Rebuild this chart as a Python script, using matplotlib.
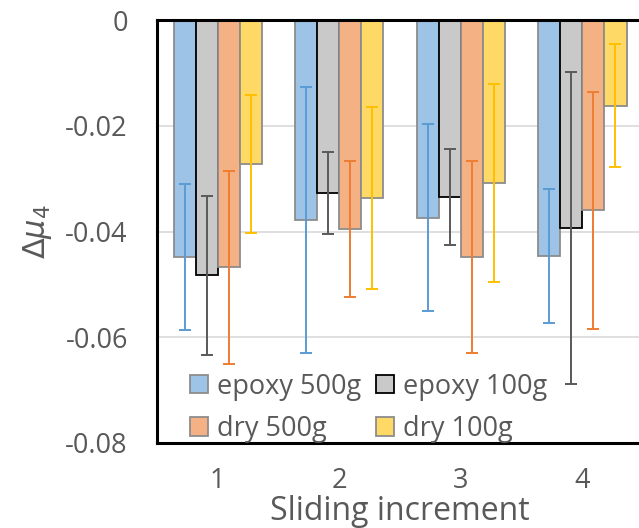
import numpy as np
import matplotlib.pyplot as plt

# sliding increments and mean change of friction coefficient per condition
increments = ["1", "2", "3", "4"]
series_names = ["epoxy 500g", "epoxy 100g", "dry 500g", "dry 100g"]

epoxy_500 = [-0.0449, -0.0378, -0.0374, -0.0446]
epoxy_100 = [-0.0483, -0.0327, -0.0335, -0.0393]
dry_500 = [-0.0468, -0.0395, -0.0448, -0.0360]
dry_100 = [-0.0272, -0.0337, -0.0308, -0.0162]

epoxy_500_err = [0.0138, 0.0252, 0.0177, 0.0127]
epoxy_100_err = [0.0150, 0.0077, 0.0091, 0.0295]
dry_500_err = [0.0182, 0.0128, 0.0182, 0.0224]
dry_100_err = [0.0130, 0.0172, 0.0187, 0.0116]

fill_colors = ["#9DC3E6", "#C9C9C9", "#F4B183", "#FFD966"]
edge_colors = ["#8C8C8C", "#000000", "#8C8C8C", "#8C8C8C"]
err_colors = ["#5B9BD5", "#595959", "#ED7D31", "#FFC000"]

plt.rcParams["font.family"] = ["Open Sans", "DejaVu Sans"]
text_gray = "#595959"

fig = plt.figure(figsize=(6.39, 5.28), dpi=100)
ax = fig.add_axes([0.2457, 0.161, 0.7606, 0.801])

values = [epoxy_500, epoxy_100, dry_500, dry_100]
errors = [epoxy_500_err, epoxy_100_err, dry_500_err, dry_100_err]

x = np.arange(len(increments))
width = 0.182
bars = []
for i in range(4):
    pos = x + (i - 1.5) * width
    b = ax.bar(pos, values[i], width, color=fill_colors[i],
               edgecolor=edge_colors[i], linewidth=1.3,
               label=series_names[i], zorder=2)
    bars.append(b)
    ax.errorbar(pos, values[i], yerr=errors[i], fmt="none",
                ecolor=err_colors[i], elinewidth=1.4, capsize=4.5,
                capthick=1.4, zorder=3)

ax.set_xlim(-0.5, 3.5)
ax.set_ylim(-0.08, 0)
ax.set_yticks([0, -0.02, -0.04, -0.06, -0.08])
ax.set_yticklabels(["0", "-0.02", "-0.04", "-0.06", "-0.08"])
ax.set_xticks(x)
ax.set_xticklabels(increments)

ax.yaxis.grid(True, color="#D9D9D9", linewidth=1.2, zorder=0)
ax.set_axisbelow(True)

for s in ax.spines.values():
    s.set_linewidth(2.2)
    s.set_color("black")

ax.tick_params(axis="both", length=0, labelsize=19.5, colors=text_gray)
ax.tick_params(axis="y", pad=21)
ax.tick_params(axis="x", pad=17)

ax.set_xlabel("Sliding increment", fontsize=23, color=text_gray, labelpad=0)
ax.set_ylabel(r"$\mathit{\Delta\mu}_\mathit{4}$", fontsize=22,
              color=text_gray, labelpad=8)

# legend filled column-wise: epoxy on top row, dry on bottom row
handles = [bars[0], bars[2], bars[1], bars[3]]
labels = [series_names[0], series_names[2], series_names[1], series_names[3]]
leg = ax.legend(handles, labels, ncol=2, loc="lower left",
                bbox_to_anchor=(0.068, 0.0), frameon=False, fontsize=19.5,
                handlelength=0.66, handleheight=0.66, handletextpad=0.33,
                columnspacing=0.55, labelspacing=0.53, borderaxespad=0,
                borderpad=0)
for t in leg.get_texts():
    t.set_color(text_gray)

fig.savefig("out.png", dpi=100)
